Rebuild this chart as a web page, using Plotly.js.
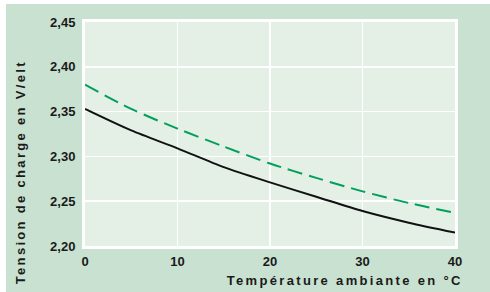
<!DOCTYPE html>
<html>
<head>
<meta charset="utf-8">
<script src="https://cdn.plot.ly/plotly-3.0.1.min.js"></script>
<style>
html, body { margin: 0; padding: 0; background: #ffffff; }
#chart { position: absolute; left: 6px; top: 4px; width: 484px; height: 288px; }
</style>
</head>
<body>
<div id="chart"></div>
<script>
const temperatures = [0, 5, 10, 15, 20, 25, 30, 35, 40];
const solidVoltage = [2.353, 2.329, 2.309, 2.288, 2.271, 2.255, 2.239, 2.226, 2.215];
const dashedVoltage = [2.380, 2.353, 2.331, 2.311, 2.292, 2.276, 2.261, 2.248, 2.237];
const xTicks = [0, 10, 20, 30, 40];
const yTicks = [2.20, 2.25, 2.30, 2.35, 2.40, 2.45];
const xTitle = 'Température ambiante en °C';
const yTitle = 'Tension de charge en V/elt';

const fontFamily = '"Liberation Sans", Arial, Helvetica, sans-serif';

const traces = [
  {
    x: temperatures, y: solidVoltage, type: 'scatter', mode: 'lines',
    line: { color: '#111111', width: 2, shape: 'spline', smoothing: 0.8 },
    hoverinfo: 'skip'
  },
  {
    x: temperatures, y: dashedVoltage, type: 'scatter', mode: 'lines',
    line: { color: '#00a05a', width: 2, shape: 'spline', smoothing: 0.8, dash: '15px,7px' },
    hoverinfo: 'skip'
  }
];

const layout = {
  width: 484, height: 288,
  margin: { l: 79, r: 35, t: 18, b: 46, pad: 0 },
  paper_bgcolor: '#c9e1d0',
  plot_bgcolor: '#e4efe6',
  showlegend: false,
  separators: ', ',
  font: { family: fontFamily, size: 12, color: '#1a1a1a', weight: 'bold' },
  xaxis: {
    range: [0, 40], tickvals: xTicks, ticktext: xTicks.map(String),
    showgrid: true, gridcolor: '#ffffff', gridwidth: 1.5,
    showline: true, linecolor: '#ffffff', linewidth: 3, mirror: true,
    zeroline: false, ticks: '', ticklabelstandoff: 1,
    tickfont: { family: fontFamily, size: 13, color: '#1a1a1a', weight: 'bold' },
    fixedrange: true
  },
  yaxis: {
    range: [2.20, 2.45], tickvals: yTicks, tickformat: '.2f',
    showgrid: true, gridcolor: '#ffffff', gridwidth: 1.5,
    showline: true, linecolor: '#ffffff', linewidth: 3, mirror: true,
    zeroline: false, ticks: '', ticklabelstandoff: 4,
    tickfont: { family: fontFamily, size: 13, color: '#1a1a1a', weight: 'bold' },
    fixedrange: true
  },
  annotations: [
    {
      text: xTitle, xref: 'paper', yref: 'paper', x: 0.7027, y: -0.152,
      xanchor: 'center', yanchor: 'middle', showarrow: false,
      font: { family: fontFamily, size: 13, color: '#1a1a1a', weight: 'bold' }
    },
    {
      text: yTitle, xref: 'paper', yref: 'paper', x: -0.1757, y: 0.33,
      xanchor: 'center', yanchor: 'middle', showarrow: false, textangle: -90,
      font: { family: fontFamily, size: 13, color: '#1a1a1a', weight: 'bold' }
    }
  ]
};

Plotly.newPlot('chart', traces, layout, { displayModeBar: false, staticPlot: true }).then(function () {
  const targets = [236, 224];
  document.querySelectorAll('.annotation-text').forEach(function (el, i) {
    const natural = el.getComputedTextLength();
    const n = el.textContent.length;
    const spacing = Math.max(0, (targets[i] - natural) / n);
    el.setAttribute('letter-spacing', spacing.toFixed(2));
  });
});
</script>
</body>
</html>
